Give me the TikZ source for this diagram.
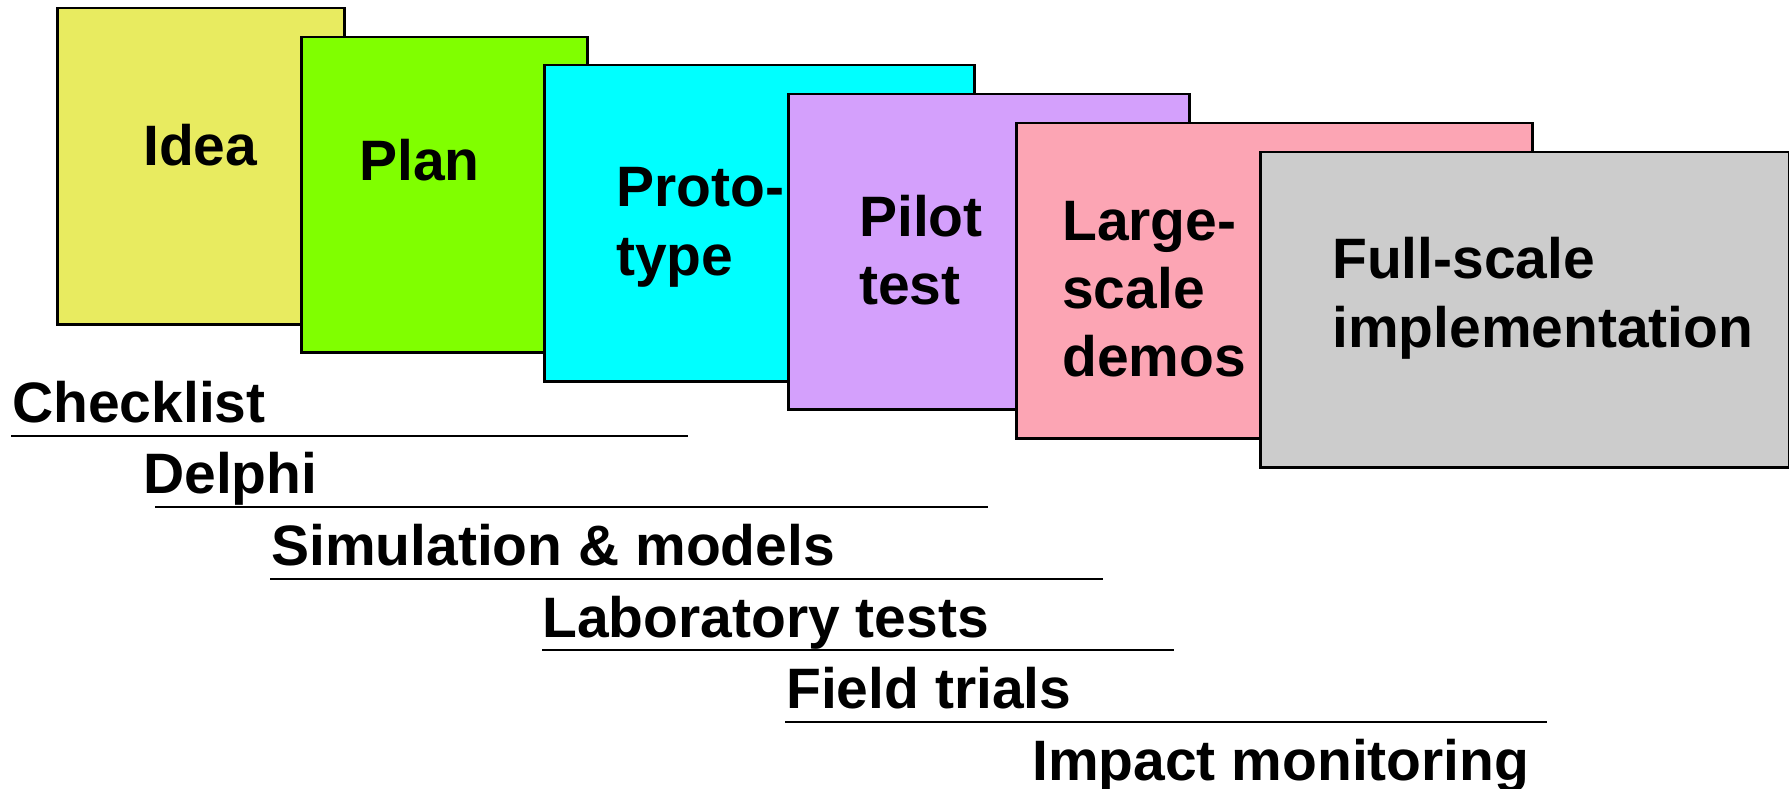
\documentclass[tikz,border=0pt]{standalone}
\usepackage{fontspec}
\setmainfont{Liberation Sans}
\definecolor{ideaC}{HTML}{E8EB60}
\definecolor{planC}{HTML}{80FF00}
\definecolor{protoC}{HTML}{00FFFF}
\definecolor{pilotC}{HTML}{D4A0FC}
\definecolor{largeC}{HTML}{FCA5B4}
\definecolor{fullC}{HTML}{CCCCCC}
\begin{document}
\begin{tikzpicture}[x=1pt,y=-1pt,
  stage/.style={draw=black, line width=2.5pt, inner sep=0pt, anchor=north west},
  lbl/.style={anchor=base west, inner sep=0pt, font=\fontsize{57}{68}\selectfont\bfseries},
  rule/.style={draw=black, line width=2.5pt}]
\useasboundingbox (0,0) rectangle (1789,789);
% stage boxes
\node[stage, fill=ideaC, minimum width=287, minimum height=316] (idea) at (56,7) {};
\node[lbl] (ideat) at (143,165) {Idea};
\node[stage, fill=planC, minimum width=286, minimum height=315] (plan) at (300,36) {};
\node[lbl] (plant) at (359,180) {Plan};
\node[stage, fill=protoC, minimum width=430, minimum height=316] (proto) at (543,64) {};
\node[lbl] (protot1) at (616,207) {Proto-};
\node[lbl] (protot2) at (616,275) {type};
\node[stage, fill=pilotC, minimum width=401, minimum height=315] (pilot) at (787,93) {};
\node[lbl] (pilott1) at (859,236) {Pilot};
\node[lbl] (pilott2) at (859,304) {test};
\node[stage, fill=largeC, minimum width=516, minimum height=315] (large) at (1015,122) {};
\node[lbl] (larget1) at (1062,240) {Large-};
\node[lbl] (larget2) at (1062,308) {scale};
\node[lbl] (larget3) at (1062,376) {demos};
\node[stage, fill=fullC, minimum width=529, minimum height=315] (full) at (1259,151) {};
\node[lbl] (fullt1) at (1332,278) {Full-scale};
\node[lbl] (fullt2) at (1332,347) {implementation};
% method labels and their spans
\node[lbl] (check) at (12,422) {Checklist};
\coordinate (checkA) at (11,436); \coordinate (checkB) at (688,436);
\draw[rule] (checkA) -- (checkB);
\node[lbl] (delphi) at (143,493) {Delphi};
\coordinate (delphiA) at (155,507); \coordinate (delphiB) at (988,507);
\draw[rule] (delphiA) -- (delphiB);
\node[lbl] (sim) at (271,565) {Simulation \& models};
\coordinate (simA) at (270,579); \coordinate (simB) at (1103,579);
\draw[rule] (simA) -- (simB);
\node[lbl] (lab) at (542,637) {Laboratory tests};
\coordinate (labA) at (542,650); \coordinate (labB) at (1174,650);
\draw[rule] (labA) -- (labB);
\node[lbl] (field) at (786,708) {Field trials};
\coordinate (fieldA) at (785,722); \coordinate (fieldB) at (1547,722);
\draw[rule] (fieldA) -- (fieldB);
\node[lbl] (impact) at (1032,780) {Impact monitoring};
\end{tikzpicture}
\end{document}
